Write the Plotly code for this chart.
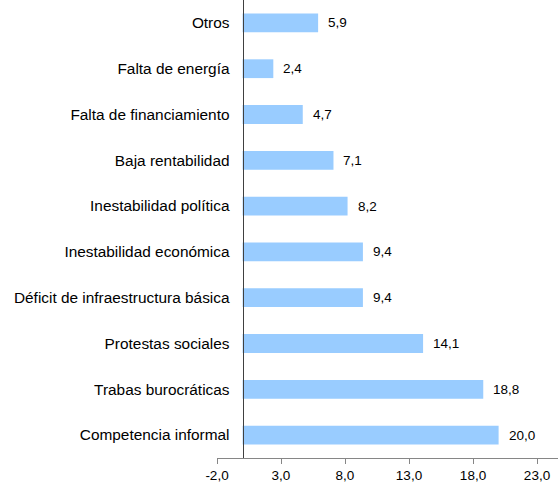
import plotly.graph_objects as go

categories = ["Otros", "Falta de energía", "Falta de financiamiento", "Baja rentabilidad",
              "Inestabilidad política", "Inestabilidad económica",
              "Déficit de infraestructura básica", "Protestas sociales",
              "Trabas burocráticas", "Competencia informal"]
values = [5.9, 2.4, 4.7, 7.1, 8.2, 9.4, 9.4, 14.1, 18.8, 20.0]
tick_vals = [-2, 3, 8, 13, 18, 23]
tick_text = ["-2,0", "3,0", "8,0", "13,0", "18,0", "23,0"]

xmin, xmax = -2, 24.64
font = "Liberation Sans, Arial, sans-serif"

fig = go.Figure(go.Bar(
    x=values, y=categories, orientation="h",
    marker=dict(color="#99CCFF", line=dict(width=0)),
    hoverinfo="skip",
))

for v, c in zip(values, categories):
    fig.add_annotation(x=v, y=c, text=f"{v:.1f}".replace(".", ","),
                       xanchor="left", xshift=8, showarrow=False,
                       font=dict(family=font, size=13.5, color="#000000"))

fig.update_layout(
    width=558, height=483,
    margin=dict(l=217, r=0, t=0, b=25),
    paper_bgcolor="white", plot_bgcolor="white",
    showlegend=False, bargap=0.59,
    font=dict(family=font, size=13.5, color="#000000"),
    xaxis=dict(range=[xmin, xmax], tickvals=tick_vals, ticktext=tick_text,
               showgrid=False, zeroline=False, showline=True,
               linecolor="#868686", linewidth=1,
               ticks="outside", ticklen=5, tickcolor="#868686",
               tickfont=dict(size=13.5)),
    yaxis=dict(autorange="reversed", anchor="free",
               position=(0 - xmin) / (xmax - xmin),
               showgrid=False, zeroline=False, showline=True,
               linecolor="#404040", linewidth=1, ticks="",
               ticklabelstandoff=10, tickfont=dict(size=15.4)),
)

fig.write_html("out.html", config={"displayModeBar": False},
               post_script="document.body.style.margin='0';document.body.style.overflow='hidden';")
